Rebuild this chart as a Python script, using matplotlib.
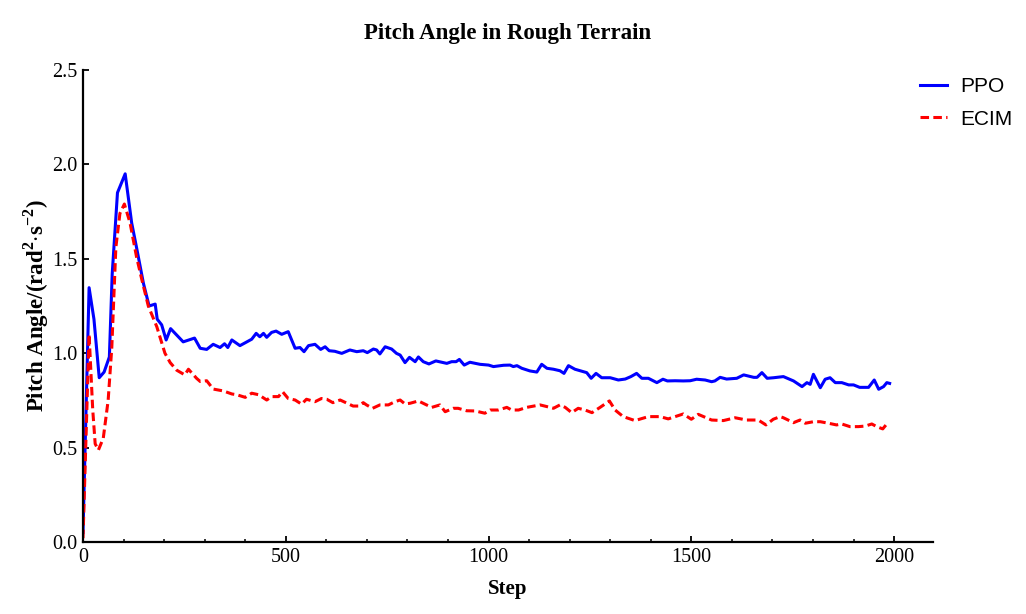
import matplotlib.pyplot as plt
import numpy as np

# PPO curve
ppo_step = [0, 15, 27, 40, 52, 65, 72, 85, 104, 120, 132, 149, 163, 178, 183,
            194, 205, 216, 227, 247, 275, 289, 305, 321, 338, 349, 357, 367,
            387, 404, 416, 427, 436, 445, 453, 465, 476, 490, 506, 523, 535,
            545, 556, 572, 586, 597, 607, 621, 638, 658, 675, 691, 701, 716,
            724, 732, 745, 761, 773, 782, 794, 805, 819, 827, 839, 853, 870,
            884, 897, 909, 920, 928, 940, 954, 979, 1000, 1012, 1037, 1053,
            1061, 1070, 1082, 1102, 1119, 1131, 1144, 1160, 1176, 1186, 1197,
            1213, 1226, 1242, 1253, 1265, 1279, 1300, 1320, 1337, 1351, 1365,
            1378, 1394, 1415, 1430, 1441, 1460, 1480, 1497, 1513, 1534, 1550,
            1558, 1571, 1587, 1612, 1629, 1641, 1654, 1662, 1674, 1687, 1703,
            1727, 1752, 1773, 1785, 1793, 1801, 1818, 1830, 1842, 1855, 1871,
            1888, 1900, 1915, 1937, 1951, 1962, 1974, 1982, 1989]
ppo_val = [0.05, 1.347, 1.18, 0.87, 0.90, 0.98, 1.42, 1.85, 1.95, 1.69, 1.56,
           1.37, 1.25, 1.26, 1.18, 1.15, 1.07, 1.13, 1.105, 1.06, 1.08, 1.026,
           1.02, 1.047, 1.03, 1.05, 1.03, 1.07, 1.04, 1.06, 1.074, 1.105,
           1.087, 1.105, 1.084, 1.11, 1.117, 1.10, 1.114, 1.026, 1.03, 1.008,
           1.04, 1.047, 1.02, 1.034, 1.013, 1.01, 0.999, 1.017, 1.008, 1.013,
           1.003, 1.022, 1.017, 0.996, 1.034, 1.022, 0.999, 0.99, 0.95, 0.978,
           0.955, 0.98, 0.955, 0.943, 0.959, 0.952, 0.946, 0.955, 0.955,
           0.967, 0.937, 0.952, 0.941, 0.937, 0.929, 0.936, 0.937, 0.929,
           0.934, 0.92, 0.906, 0.90, 0.941, 0.92, 0.915, 0.907, 0.893, 0.934,
           0.915, 0.907, 0.897, 0.867, 0.893, 0.870, 0.870, 0.858, 0.863,
           0.876, 0.893, 0.867, 0.867, 0.844, 0.862, 0.853, 0.854, 0.853,
           0.854, 0.862, 0.858, 0.849, 0.853, 0.872, 0.863, 0.867, 0.885,
           0.879, 0.872, 0.872, 0.897, 0.867, 0.870, 0.876, 0.853, 0.823,
           0.844, 0.835, 0.888, 0.817, 0.862, 0.870, 0.844, 0.844, 0.832,
           0.832, 0.819, 0.819, 0.858, 0.809, 0.823, 0.844, 0.84]

# ECIM curve
ecim_step = [0, 15, 24, 30, 38, 50, 62, 71, 81, 91, 102, 116, 132, 145, 161,
             182, 202, 215, 231, 251, 260, 280, 289, 305, 321, 346, 367, 379,
             400, 416, 433, 453, 465, 482, 492, 506, 523, 539, 551, 572, 588,
             601, 616, 634, 648, 666, 679, 691, 699, 714, 732, 753, 769, 782,
             794, 807, 827, 847, 860, 880, 893, 913, 925, 946, 967, 991, 1004,
             1024, 1045, 1057, 1074, 1094, 1127, 1144, 1160, 1176, 1189, 1205,
             1221, 1238, 1255, 1275, 1298, 1312, 1332, 1361, 1394, 1423, 1443,
             1480, 1500, 1517, 1550, 1579, 1608, 1636, 1665, 1684, 1702, 1719,
             1727, 1752, 1768, 1781, 1801, 1818, 1838, 1858, 1871, 1891, 1912,
             1929, 1945, 1957, 1972, 1980, 1989]
ecim_val = [0.02, 1.10, 0.70, 0.52, 0.487, 0.55, 0.75, 1.03, 1.56, 1.74, 1.79,
            1.69, 1.51, 1.39, 1.25, 1.14, 1.0, 0.95, 0.91, 0.885, 0.915, 0.867,
            0.85, 0.854, 0.81, 0.80, 0.784, 0.78, 0.766, 0.788, 0.78, 0.752,
            0.77, 0.77, 0.796, 0.76, 0.752, 0.73, 0.756, 0.743, 0.76, 0.756,
            0.738, 0.752, 0.738, 0.72, 0.72, 0.738, 0.726, 0.708, 0.726, 0.726,
            0.743, 0.752, 0.731, 0.735, 0.747, 0.726, 0.713, 0.726, 0.69,
            0.708, 0.708, 0.695, 0.694, 0.682, 0.699, 0.699, 0.713, 0.699,
            0.699, 0.713, 0.726, 0.717, 0.708, 0.726, 0.713, 0.685, 0.708,
            0.699, 0.685, 0.713, 0.747, 0.699, 0.664, 0.643, 0.664, 0.664,
            0.652, 0.678, 0.65, 0.676, 0.646, 0.643, 0.658, 0.646, 0.646, 0.62,
            0.65, 0.664, 0.658, 0.632, 0.646, 0.629, 0.637, 0.637, 0.629, 0.62,
            0.625, 0.611, 0.611, 0.614, 0.625, 0.611, 0.599, 0.62, 0.625]

serif = ["Liberation Serif", "DejaVu Serif"]
sans = ["Liberation Sans", "DejaVu Sans"]
plt.rcParams["mathtext.fontset"] = "custom"
plt.rcParams["mathtext.rm"] = "Liberation Serif"
plt.rcParams["mathtext.bf"] = "Liberation Serif:bold"

fig = plt.figure(figsize=(10.26, 6.14), dpi=100)
ax = fig.add_axes([0.0809, 0.1173, 0.8285, 0.7687])

ax.plot(ppo_step, ppo_val, color="#0000ff", lw=2.2, label="PPO")
ax.plot(ecim_step, ecim_val, color="#ff0000", lw=2.2, dashes=(2.8, 1.4),
        label="ECIM")

ax.set_xlim(0, 2096)
ax.set_ylim(0, 2.5)
ax.set_xticks([0, 500, 1000, 1500, 2000])
ax.set_xticks(np.arange(0, 2001, 100), minor=True)
ax.set_yticks([0, 0.5, 1.0, 1.5, 2.0, 2.5])
ax.set_yticklabels(["0.0", "0.5", "1.0", "1.5", "2.0", "2.5"])

for s in ["top", "right"]:
    ax.spines[s].set_visible(False)
for s in ["left", "bottom"]:
    ax.spines[s].set_linewidth(1.6)
ax.tick_params(which="major", direction="in", length=4, width=1.3,
               labelsize=14.5, pad=4)
ax.tick_params(which="minor", direction="in", length=2, width=1.1)
for lab in ax.get_xticklabels() + ax.get_yticklabels():
    lab.set_family(serif)

ax.set_title("Pitch Angle in Rough Terrain", family=serif, fontsize=16.5,
             fontweight="bold", pad=22)
ax.set_xlabel("Step", family=serif, fontsize=15, fontweight="bold",
              labelpad=9)
ax.set_ylabel(r"Pitch Angle/(rad$^{\mathbf{2}}$$\cdot$s$^{\mathbf{-2}}$)",
              family=serif, fontsize=16.5, fontweight="bold", labelpad=1)

ax.legend(loc="upper left", bbox_to_anchor=(0.878, 0.905),
          bbox_transform=fig.transFigure, frameon=False,
          prop={"family": sans, "size": 15}, handlelength=1.3,
          handletextpad=0.65, labelspacing=0.65)

fig.savefig("out.png", dpi=100)
